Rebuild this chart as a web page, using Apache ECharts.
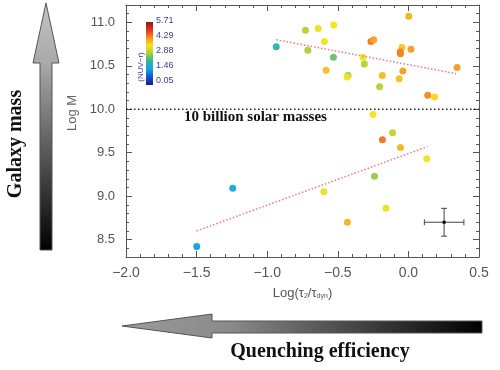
<!DOCTYPE html>
<html>
<head>
<meta charset="utf-8">
<script src="https://cdn.jsdelivr.net/npm/echarts@6/dist/echarts.min.js"></script>
<style>html,body{margin:0;padding:0;background:#fff;}#c{width:500px;height:370px;}</style>
</head>
<body>
<div id="c"></div>
<script>
// ---- data ----
const logTau = [-0.936,-0.729,-0.639,-0.529,-0.712,-0.595,-0.531,-0.583,-0.428,-0.435,-0.322,-0.312,-0.265,-0.246,-0.185,-0.204,0.003,-0.046,-0.058,-0.056,0.018,-0.039,-0.065,0.137,0.185,0.345,-0.251,-0.112,-0.184,-0.056,0.130,-1.244,-0.599,-0.240,-0.159,-0.432,-1.499];
const logM   = [10.72,10.91,10.93,10.97,10.68,10.78,10.60,10.45,10.39,10.37,10.60,10.52,10.78,10.80,10.39,10.26,11.07,10.71,10.66,10.64,10.69,10.44,10.35,10.16,10.14,10.48,9.94,9.73,9.65,9.56,9.43,9.09,9.05,9.23,8.86,8.70,8.42];
const nuvR   = [2.1,3.0,3.5,3.6,2.95,3.55,2.5,3.9,2.8,3.55,3.55,3.0,4.5,4.1,3.95,3.0,4.0,3.85,4.45,4.4,4.2,4.2,3.9,4.35,3.7,4.2,3.6,3.1,4.5,4.0,3.55,1.55,3.5,2.8,3.5,4.0,1.4];
const fitHighX = [-0.936, 0.338], fitHighY = [10.80, 10.41];
const fitLowX  = [-1.50, 0.135],  fitLowY  = [8.60, 9.57];
const massLimit = 10.0;
const errCenter = [0.253, 8.70], errHalf = [0.14, 0.16];
const yTicks = [8.5, 9.0, 9.5, 10.0, 10.5, 11.0];
const cbLabels = ['5.71', '4.29', '2.88', '1.46', '0.05'];
const cbMin = 0.05, cbMax = 5.71;
const cmap = ['#1c1c8a','#1a50c8','#12a4e6','#30b49a','#a8cc3c','#f2e41e','#f4901e','#e43020','#8c1a1a'];

const pts = logTau.map((x, i) => [x, logM[i], nuvR[i]]);
const axisCol = '#555';
const labFont = 'Liberation Sans';
const fmt = v => (v < 0 ? '\u2212' : '') + Math.abs(v).toFixed(1);

const chart = echarts.init(document.getElementById('c'), null, {renderer: 'canvas'});

const cbStops = cmap.map((c, i) => ({offset: 1 - i / (cmap.length - 1), color: c}));
const graphics = [
  {type: 'polygon', shape: {points: [[46,3],[59,63],[52,63],[52,250],[40,250],[40,63],[33,63]]},
   style: {fill: new echarts.graphic.LinearGradient(0,0,0,1,[{offset:0,color:'#c4c4c4'},{offset:0.25,color:'#a8a8a8'},{offset:1,color:'#000'}]), stroke:'#555', lineWidth:1}},
  {type: 'polygon', shape: {points: [[122,326],[212,314],[212,321],[482,321],[482,333],[212,333],[212,338]]},
   style: {fill: new echarts.graphic.LinearGradient(0,0,1,0,[{offset:0,color:'#9a9a9a'},{offset:0.3,color:'#8a8a8a'},{offset:1,color:'#000'}]), stroke:'#555', lineWidth:1}},
  {type: 'text', x: 16, y: 144, rotation: Math.PI/2,
   style: {text: 'Galaxy mass', font: 'bold 20px "Liberation Serif"', fill: '#111', align: 'center', verticalAlign: 'middle'}},
  {type: 'text', x: 320, y: 352,
   style: {text: 'Quenching efficiency', font: 'bold 20px "Liberation Serif"', fill: '#111', align: 'center', verticalAlign: 'middle'}},
  {type: 'text', x: 72, y: 113, rotation: Math.PI/2,
   style: {text: 'Log M', font: '13px "Liberation Sans"', fill: '#666', align: 'center', verticalAlign: 'middle'}},
  {type: 'text', x: 184, y: 117, z: 10,
   style: {text: '10 billion solar masses', font: 'bold 15px "Liberation Serif"', fill: '#111', align: 'left', verticalAlign: 'middle'}},
  {type: 'rect', shape: {x: 146, y: 22, width: 7, height: 63}, z: 10,
   style: {fill: new echarts.graphic.LinearGradient(0,0,0,1,cbStops), stroke: null}},
  {type: 'text', x: 141, y: 67, rotation: Math.PI/2, z: 10,
   style: {text: '(NUV\u2212r)', font: '8px "Liberation Sans"', fill: '#3b3b9b', align: 'center', verticalAlign: 'middle'}}
];
cbLabels.forEach((t, i) => {
  graphics.push({type: 'text', x: 156, y: 21 + i * 15, z: 10,
    style: {text: t, font: '9px "Liberation Sans"', fill: '#3b3b9b', align: 'left', verticalAlign: 'middle'}});
});

const xBase = {
  type: 'value', min: -2, max: 0.5, interval: 0.5,
  axisLine: {show: true, onZero: false, lineStyle: {color: axisCol, width: 1}},
  axisTick: {show: true, inside: true, length: 6, lineStyle: {color: axisCol}},
  minorTick: {show: true, splitNumber: 5, length: 3, lineStyle: {color: axisCol}},
  splitLine: {show: false}, minorSplitLine: {show: false}
};
const yRange = {type: 'value', min: 8.3, max: 11.2, splitLine: {show: false}};

const option = {
  animation: false,
  backgroundColor: '#fff',
  grid: {left: 126, right: 21, top: 5, bottom: 113, containLabel: false},
  graphic: {elements: graphics},
  visualMap: {type: 'continuous', show: false, seriesIndex: 0, dimension: 2, min: cbMin, max: cbMax, inRange: {color: cmap}},
  xAxis: [
    Object.assign({}, xBase, {position: 'bottom',
      axisLabel: {show: true, formatter: fmt, color: '#555', fontFamily: labFont, fontSize: 14, margin: 9},
      name: 'Log(\u03c4{s|2}/\u03c4{s|dyn})', nameLocation: 'middle', nameGap: 30,
      nameTextStyle: {color: '#555', fontFamily: labFont, fontSize: 13,
        rich: {s: {fontSize: 7, fontFamily: labFont, color: '#555', padding: [6, 0, 0, 0]}}}}),
    Object.assign({}, xBase, {position: 'top', axisLabel: {show: false}})
  ],
  yAxis: [
    Object.assign({}, yRange, {position: 'left',
      axisLine: {show: true, onZero: false, lineStyle: {color: axisCol, width: 1}},
      axisTick: {show: true, inside: true, length: 6, customValues: yTicks, lineStyle: {color: axisCol}},
      axisLabel: {show: true, customValues: yTicks, formatter: v => v.toFixed(1), color: '#555', fontFamily: labFont, fontSize: 13, margin: 11}}),
    Object.assign({}, yRange, {position: 'left', interval: 0.1,
      axisLine: {show: false, onZero: false}, axisLabel: {show: false},
      axisTick: {show: true, inside: true, length: 3, lineStyle: {color: axisCol}}}),
    Object.assign({}, yRange, {position: 'right',
      axisLine: {show: true, onZero: false, lineStyle: {color: axisCol, width: 1}},
      axisTick: {show: true, inside: true, length: 6, customValues: yTicks, lineStyle: {color: axisCol}},
      axisLabel: {show: false}}),
    Object.assign({}, yRange, {position: 'right', interval: 0.1,
      axisLine: {show: false, onZero: false}, axisLabel: {show: false},
      axisTick: {show: true, inside: true, length: 3, lineStyle: {color: axisCol}}})
  ],
  series: [
    {type: 'scatter', data: pts, symbol: 'circle', symbolSize: 7, itemStyle: {opacity: 0.95}, z: 3},
    {type: 'line', data: [[-2, massLimit], [0.5, massLimit]], symbol: 'none', silent: true, z: 4,
     lineStyle: {color: '#222', width: 1.5, type: [1.5, 2.5]}},
    {type: 'line', data: fitHighX.map((x, i) => [x, fitHighY[i]]), symbol: 'none', z: 4,
     lineStyle: {color: '#f07a80', width: 1.5, type: [1.5, 2]}},
    {type: 'line', data: fitLowX.map((x, i) => [x, fitLowY[i]]), symbol: 'none', z: 4,
     lineStyle: {color: '#f07a80', width: 1.5, type: [1.5, 2]}},
    {type: 'custom', data: [[errCenter[0], errCenter[1], errHalf[0], errHalf[1]]], z: 4,
     renderItem: function (params, api) {
       const x = api.value(0), y = api.value(1), ex = api.value(2), ey = api.value(3);
       const c = api.coord([x, y]), l = api.coord([x - ex, y]), r = api.coord([x + ex, y]);
       const t = api.coord([x, y + ey]), b = api.coord([x, y - ey]);
       const st = {stroke: '#444', lineWidth: 1};
       const cap = 3;
       return {type: 'group', children: [
         {type: 'line', shape: {x1: l[0], y1: l[1], x2: r[0], y2: r[1]}, style: st},
         {type: 'line', shape: {x1: t[0], y1: t[1], x2: b[0], y2: b[1]}, style: st},
         {type: 'line', shape: {x1: l[0], y1: l[1] - cap, x2: l[0], y2: l[1] + cap}, style: st},
         {type: 'line', shape: {x1: r[0], y1: r[1] - cap, x2: r[0], y2: r[1] + cap}, style: st},
         {type: 'line', shape: {x1: t[0] - cap, y1: t[1], x2: t[0] + cap, y2: t[1]}, style: st},
         {type: 'line', shape: {x1: b[0] - cap, y1: b[1], x2: b[0] + cap, y2: b[1]}, style: st},
         {type: 'rect', shape: {x: c[0] - 1.5, y: c[1] - 1.5, width: 3, height: 3}, style: {fill: '#000'}}
       ]};
     }}
  ]
};
chart.setOption(option);
</script>
</body>
</html>
